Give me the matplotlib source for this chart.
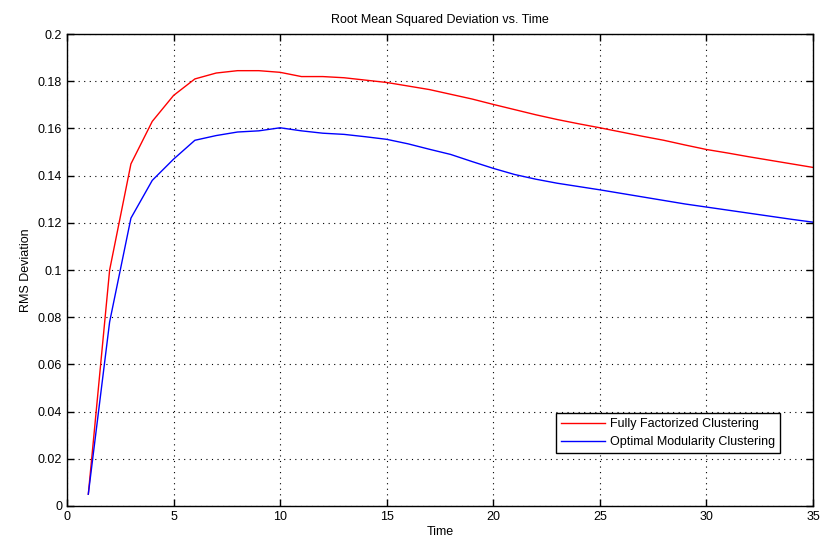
import numpy as np
import matplotlib
matplotlib.use('Agg')
import matplotlib.pyplot as plt

# values
time = list(range(1, 36))
fully_factorized = [0.005, 0.100, 0.145, 0.163, 0.174, 0.181, 0.1835, 0.1845, 0.1845, 0.1838,
                    0.182, 0.182, 0.1815, 0.1805, 0.1795, 0.178, 0.1765, 0.1745, 0.1725, 0.1702,
                    0.168, 0.1658, 0.1638, 0.162, 0.1603, 0.1585, 0.1567, 0.155, 0.153, 0.1511,
                    0.1496, 0.148, 0.1465, 0.145, 0.1435]
optimal_modularity = [0.005, 0.078, 0.122, 0.138, 0.147, 0.155, 0.157, 0.1585, 0.159, 0.1603,
                      0.159, 0.158, 0.1575, 0.1565, 0.1554, 0.1535, 0.1512, 0.149, 0.146, 0.1431,
                      0.1405, 0.1385, 0.1368, 0.1354, 0.134, 0.1325, 0.131, 0.1295, 0.128, 0.1267,
                      0.1254, 0.1241, 0.1228, 0.1215, 0.1203]

plt.rcParams['font.family'] = ['Liberation Sans Narrow', 'Liberation Sans', 'DejaVu Sans']
plt.rcParams['font.size'] = 8.5

fig = plt.figure(figsize=(8.22, 5.5), dpi=100)
ax = fig.add_axes([0.0815, 0.08, 0.9075, 0.858])

ax.plot(time, fully_factorized, color='#ff0000', lw=1.0, label='Fully Factorized Clustering')
ax.plot(time, optimal_modularity, color='#0000ff', lw=1.0, label='Optimal Modularity Clustering')

ax.set_xlim(0, 35)
ax.set_ylim(0, 0.2)
ax.set_xticks(np.arange(0, 36, 5))
ax.set_yticks(np.arange(0, 0.201, 0.02))
ax.set_yticklabels(['0', '0.02', '0.04', '0.06', '0.08', '0.1', '0.12', '0.14', '0.16', '0.18', '0.2'])
ax.tick_params(direction='in', top=True, right=True, length=5, width=1, labelsize=9)
ax.grid(True, color='black', linestyle=(0, (1, 4)), linewidth=0.8)
for s in ax.spines.values():
    s.set_linewidth(1)

ax.set_xlabel('Time', fontsize=9, labelpad=2)
ax.set_ylabel('RMS Deviation', fontsize=9, labelpad=4)
ax.set_title('Root Mean Squared Deviation vs. Time', fontsize=9, pad=8)

leg = ax.legend(loc='lower right', bbox_to_anchor=(0.956, 0.112), fontsize=9,
                fancybox=False, framealpha=1, edgecolor='black', borderaxespad=0,
                handlelength=3.5, handletextpad=0.4)
leg.get_frame().set_linewidth(1)

fig.savefig('out.png', dpi=100)
